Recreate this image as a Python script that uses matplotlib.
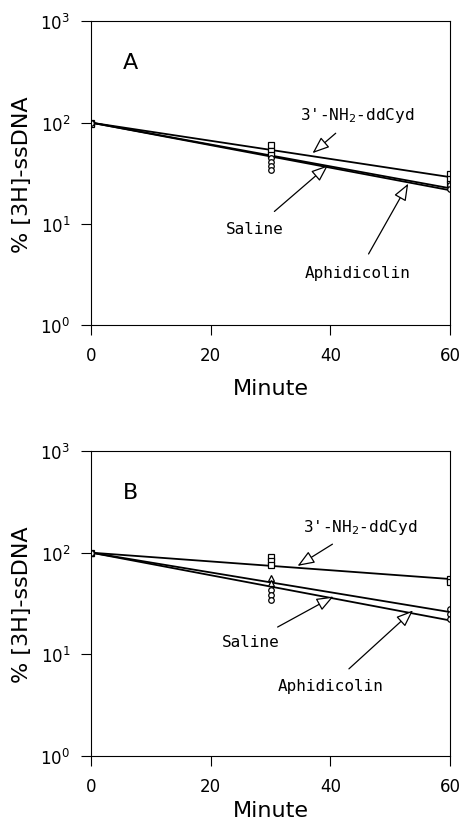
import matplotlib
matplotlib.use("Agg")
import matplotlib.pyplot as plt

# fitted lines: value at 0 and 60 min
times = [0, 60]
fit_a = {"ddCyd": [100, 29], "Saline": [100, 22.5], "Aphidicolin": [100, 21.5]}
fit_b = {"ddCyd": [100, 55], "Saline": [100, 26], "Aphidicolin": [100, 21.5]}

# individual measurements
pts_a_sq_x = [0, 0, 30, 30, 30, 60, 60, 60]
pts_a_sq_y = [100, 98, 60, 52, 48, 31, 28, 25]
pts_a_ci_x = [0, 30, 30, 30, 30, 60, 60]
pts_a_ci_y = [100, 45, 41, 37, 34, 24, 22]

pts_b_sq_x = [0, 30, 30, 30, 60, 60]
pts_b_sq_y = [100, 90, 83, 76, 55, 51]
pts_b_tr_x = [0, 30, 30]
pts_b_tr_y = [100, 56, 50]
pts_b_ci_x = [0, 30, 30, 30, 60, 60, 60]
pts_b_ci_y = [100, 43, 38, 34, 28, 25, 22]

# (text position, arrow tip) in data coords
labels_a = {"ddCyd": ((44.5, 120), (37, 50)),
            "Saline": ((27.4, 9.1), (39.6, 38)),
            "Aphidicolin": ((44.6, 3.3), (53, 25))}
labels_b = {"ddCyd": ((45, 180), (34.5, 74)),
            "Saline": ((26.6, 13.2), (40.5, 37)),
            "Aphidicolin": ((40, 4.9), (53.8, 27))}


def panel(ax, letter, fits, labels, series, xpad):
    for name, vals in fits.items():
        ax.plot(times, vals, color="black", lw=1.3)
    for xs, ys, m in series:
        ax.plot(xs, ys, linestyle="none", marker=m, mfc="white", mec="black",
                ms=4, mew=0.9)
    ax.set_yscale("log")
    ax.set_ylim(1, 1000)
    ax.set_xlim(0, 60)
    ax.set_xticks([0, 20, 40, 60])
    ax.minorticks_off()
    ax.tick_params(labelsize=12, length=7, pad=8)
    ax.set_xlabel("Minute", fontsize=16, labelpad=xpad)
    ax.set_ylabel("% [3H]-ssDNA", fontsize=16, labelpad=6)
    ax.text(6.5, 400, letter, fontsize=16, ha="center", va="center")
    names = {"ddCyd": "3'-NH$_{2}$-ddCyd", "Saline": "Saline",
             "Aphidicolin": "Aphidicolin"}
    for key, (txt, tip) in labels.items():
        ax.annotate(names[key], xy=tip, xytext=txt, fontsize=11.5,
                    family="DejaVu Sans Mono", ha="center", va="center",
                    arrowprops=dict(arrowstyle="-|>,head_length=0.9,head_width=0.35",
                                    fc="white", ec="black", lw=0.9,
                                    shrinkA=7, shrinkB=0))


fig = plt.figure(figsize=(4.65, 8.28), dpi=100)
ax1 = fig.add_axes([0.196, 0.606, 0.772, 0.367])
ax2 = fig.add_axes([0.196, 0.086, 0.772, 0.368])

panel(ax1, "A", fit_a, labels_a,
      [(pts_a_sq_x, pts_a_sq_y, "s"), (pts_a_ci_x, pts_a_ci_y, "o")], 10)
panel(ax2, "B", fit_b, labels_b,
      [(pts_b_sq_x, pts_b_sq_y, "s"), (pts_b_tr_x, pts_b_tr_y, "^"),
       (pts_b_ci_x, pts_b_ci_y, "o")], 4)

fig.savefig("out.png", dpi=100)
